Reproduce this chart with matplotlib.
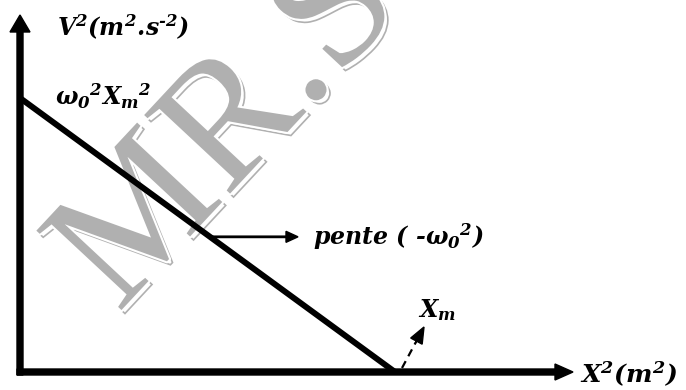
import numpy as np
import matplotlib
matplotlib.use("Agg")
import matplotlib.pyplot as plt
import matplotlib.patheffects as pe

# V^2 = f(X^2): straight line, intercept w0^2*Xm^2 on V^2 axis, Xm^2 on X^2 axis
x_sq = [0.0, 375.0]
v_sq = [274.0, 0.0]

lbl_v = "$V{}^2(m{}^2.\\!s{}^{\u20102})$"
lbl_x = r"$X{}^2(m{}^2)$"
lbl_icpt = r"$\omega_0{}^2X_m{}^2$"
lbl_slope = r"pente ( -$\omega_0{}^2$)"
lbl_xm = r"$X_m$"

plt.rcParams["mathtext.fontset"] = "custom"
plt.rcParams["mathtext.it"] = "DejaVu Serif:bold:italic"
plt.rcParams["mathtext.rm"] = "DejaVu Serif:bold:italic"
plt.rcParams["mathtext.bf"] = "DejaVu Serif:bold:italic"

fig = plt.figure(figsize=(6.86, 3.9), dpi=100)
ax = fig.add_axes([0, 0, 1, 1])
ax.set_xlim(-20, 666)
ax.set_ylim(-18, 372)
ax.axis("off")

# faint watermark
ax.text(210, 241, "MR.S", fontsize=128, family="Liberation Serif", color="#b0b0b0",
        rotation=47, ha="center", va="center", zorder=0,
        path_effects=[pe.PathPatchEffect(offset=(2.5, -2.5), edgecolor="#b0b0b0",
                                         facecolor="white", linewidth=1.2),
                      pe.Stroke(linewidth=3, foreground="white"),
                      pe.Normal()])

# axes as thick arrows
ax.arrow(-3, 0, 556, 0, width=6, head_width=16, head_length=18,
         length_includes_head=True, color="black", zorder=3)
ax.arrow(0, -3, 0, 360, width=6, head_width=20, head_length=17,
         length_includes_head=True, color="black", zorder=3)

# the line itself
ax.plot(x_sq, v_sq, color="black", lw=4.3, solid_capstyle="butt", zorder=2)

# slope pointer, starting on the line
xs = 190
ys = np.interp(xs, x_sq, v_sq)
ax.arrow(xs, ys, 88, 0, width=1.4, head_width=11, head_length=12,
         length_includes_head=True, color="black", zorder=3)

# dashed pointer to Xm
x0, y0 = 382, 4
x1, y1 = 404, 45
ax.plot([x0, x0 + (x1 - x0) * 0.62], [y0, y0 + (y1 - y0) * 0.62],
        color="black", lw=1.6, ls=(0, (3.5, 2.5)), zorder=3)
ax.arrow(x0 + (x1 - x0) * 0.6, y0 + (y1 - y0) * 0.6,
         (x1 - x0) * 0.4, (y1 - y0) * 0.4, width=0, head_width=13, head_length=16,
         length_includes_head=True, color="black", zorder=3)

font = dict(family="DejaVu Serif", weight="bold", style="italic", fontsize=17)
ax.text(37, 345, lbl_v, ha="left", va="center", **font)
ax.text(35, 276, lbl_icpt, ha="left", va="center", **font)
ax.text(293, 135, lbl_slope, ha="left", va="center", **font)
ax.text(398, 62, lbl_xm, ha="left", va="center", **font)
ax.text(560, -2, lbl_x, ha="left", va="center",
        **dict(font, fontsize=18))

fig.savefig("out.png", dpi=100)
